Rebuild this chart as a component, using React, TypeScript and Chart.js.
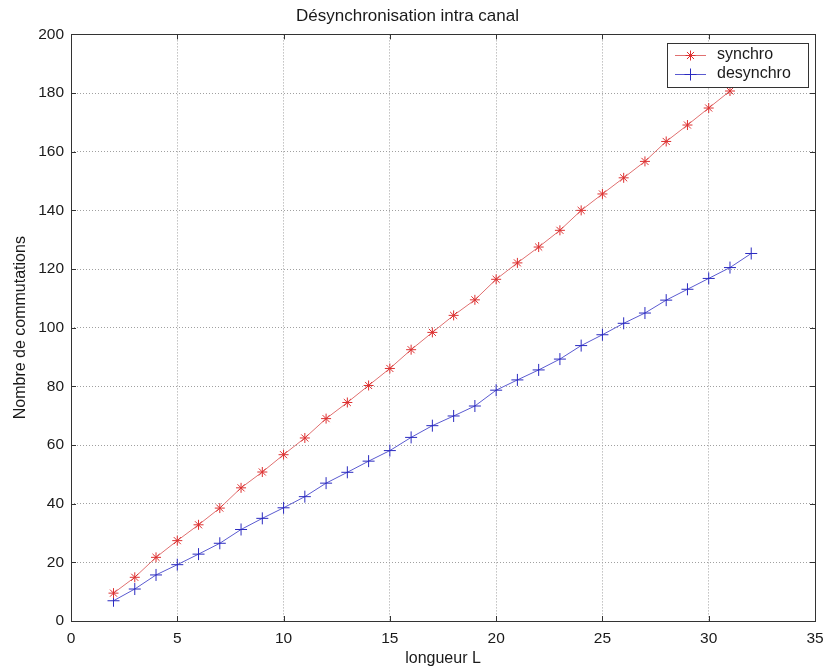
import { useEffect, useRef } from "react";
import { Chart, registerables } from "chart.js";

Chart.register(...registerables);

const TITLE = "Désynchronisation intra canal";
const X_LABEL = "longueur L";
const Y_LABEL = "Nombre de commutations";
const SERIES_NAMES = ["synchro", "desynchro"];

const L_SYNCHRO = [2, 3, 4, 5, 6, 7, 8, 9, 10, 11, 12, 13, 14, 15, 16, 17, 18, 19, 20, 21, 22, 23, 24, 25, 26, 27, 28, 29, 30, 31];
const SYNCHRO = [9.5, 14.9, 21.7, 27.4, 32.8, 38.5, 45.4, 50.8, 56.7, 62.4, 69.0, 74.5, 80.3, 86.1, 92.5, 98.4, 104.2, 109.5, 116.5, 122.1, 127.5, 133.2, 140.0, 145.6, 151.1, 156.7, 163.5, 169.1, 174.9, 180.7];

const L_DESYNCHRO = [2, 3, 4, 5, 6, 7, 8, 9, 10, 11, 12, 13, 14, 15, 16, 17, 18, 19, 20, 21, 22, 23, 24, 25, 26, 27, 28, 29, 30, 31, 32];
const DESYNCHRO = [6.9, 10.9, 15.7, 19.2, 22.8, 26.5, 31.2, 35.0, 38.6, 42.4, 47.0, 50.7, 54.5, 58.1, 62.6, 66.6, 69.9, 73.3, 78.7, 82.2, 85.6, 89.3, 93.9, 97.6, 101.5, 105.0, 109.4, 113.1, 116.8, 120.5, 125.3];

const X_TICKS = [0, 5, 10, 15, 20, 25, 30, 35];
const Y_TICKS = [0, 20, 40, 60, 80, 100, 120, 140, 160, 180, 200];

const FONT = "'Liberation Sans', Arial, Helvetica, sans-serif";
const TEXT = "#1a1a1a";

function drawMarker(ctx: CanvasRenderingContext2D, style: string, r: number, color: string, x: number, y: number) {
  ctx.save();
  ctx.strokeStyle = color;
  ctx.lineWidth = 1;
  ctx.beginPath();
  ctx.moveTo(x - r, y);
  ctx.lineTo(x + r, y);
  ctx.moveTo(x, y - r);
  ctx.lineTo(x, y + r);
  if (style === "star") {
    const d = r * Math.SQRT1_2;
    ctx.moveTo(x - d, y - d);
    ctx.lineTo(x + d, y + d);
    ctx.moveTo(x - d, y + d);
    ctx.lineTo(x + d, y - d);
  }
  ctx.stroke();
  ctx.restore();
}

const matlabFrame = {
  id: "matlabFrame",
  afterDraw(chart: any) {
    const { ctx, chartArea: a, scales } = chart;
    const xs = scales.x;
    const ys = scales.y;
    ctx.save();
    ctx.strokeStyle = "#333";
    ctx.lineWidth = 1;
    ctx.strokeRect(Math.round(a.left) + 0.5, Math.round(a.top) + 0.5, Math.round(a.right - a.left), Math.round(a.bottom - a.top));
    const tl = 5;
    ctx.beginPath();
    xs.ticks.forEach((t: any) => {
      const px = Math.round(xs.getPixelForValue(t.value)) + 0.5;
      ctx.moveTo(px, a.bottom);
      ctx.lineTo(px, a.bottom - tl);
      ctx.moveTo(px, a.top);
      ctx.lineTo(px, a.top + tl);
    });
    ys.ticks.forEach((t: any) => {
      const py = Math.round(ys.getPixelForValue(t.value)) + 0.5;
      ctx.moveTo(a.left, py);
      ctx.lineTo(a.left + tl, py);
      ctx.moveTo(a.right, py);
      ctx.lineTo(a.right - tl, py);
    });
    ctx.stroke();

    // legend box (MATLAB style, inside the axes, top-right)
    const bx = 667.5, by = 43.5, bw = 141, bh = 44;
    ctx.fillStyle = "#fff";
    ctx.fillRect(bx, by, bw, bh);
    ctx.strokeStyle = "#333";
    ctx.strokeRect(bx, by, bw, bh);
    const rows = [55, 74];
    chart.data.datasets.forEach((ds: any, i: number) => {
      const y = rows[i] + 0.5;
      ctx.strokeStyle = ds.borderColor;
      ctx.lineWidth = 1;
      ctx.beginPath();
      ctx.moveTo(675, y);
      ctx.lineTo(706, y);
      ctx.stroke();
      drawMarker(ctx, ds.pointStyle, ds.pointRadius, ds.pointBorderColor, 690.5, y);
      ctx.fillStyle = TEXT;
      ctx.font = `16px ${FONT}`;
      ctx.textBaseline = "middle";
      ctx.textAlign = "left";
      ctx.fillText(ds.label, 717, rows[i]);
    });
    ctx.restore();
  },
};

export default function App() {
  const ref = useRef<HTMLCanvasElement | null>(null);

  useEffect(() => {
    document.body.style.margin = "0";
    const canvas = ref.current;
    if (!canvas) return;
    const chart = new Chart(canvas, {
      type: "line",
      data: {
        datasets: [
          {
            label: SERIES_NAMES[0],
            data: L_SYNCHRO.map((l, i) => ({ x: l, y: SYNCHRO[i] })),
            borderColor: "#e07070",
            borderWidth: 1,
            pointStyle: "star",
            pointRadius: 5,
            pointBorderColor: "#dd3030",
            pointBorderWidth: 1,
            pointBackgroundColor: "#dd3030",
            fill: false,
            tension: 0,
          },
          {
            label: SERIES_NAMES[1],
            data: L_DESYNCHRO.map((l, i) => ({ x: l, y: DESYNCHRO[i] })),
            borderColor: "#5a5ad0",
            borderWidth: 1,
            pointStyle: "cross",
            pointRadius: 6,
            pointBorderColor: "#2a2ac0",
            pointBorderWidth: 1,
            pointBackgroundColor: "#2a2ac0",
            fill: false,
            tension: 0,
          },
        ],
      },
      options: {
        responsive: false,
        animation: false,
        devicePixelRatio: 1,
        layout: { padding: { left: 0, right: 13, top: 0, bottom: 0 } },
        plugins: {
          legend: { display: false },
          tooltip: { enabled: false },
          title: {
            display: true,
            text: TITLE,
            color: TEXT,
            font: { family: FONT, size: 17, weight: "normal" },
            padding: { top: 6, bottom: 8 },
          },
        },
        scales: {
          x: {
            type: "linear",
            min: 0,
            max: 35,
            afterBuildTicks: (s: any) => {
              s.ticks = X_TICKS.map((v) => ({ value: v }));
            },
            afterFit: (s: any) => {
              s.height = 50;
              s.paddingRight = 0;
              s.paddingLeft = 0;
            },
            ticks: {
              color: TEXT,
              font: { family: FONT, size: 15.5 },
              padding: 8,
              maxRotation: 0,
              autoSkip: false,
            },
            grid: { color: "#a0a0a0", lineWidth: 1, drawTicks: false },
            border: { display: false, dash: [1, 2] },
            title: {
              display: true,
              text: X_LABEL,
              color: TEXT,
              font: { family: FONT, size: 16 },
              padding: { top: 0, bottom: 3 },
            },
          },
          y: {
            type: "linear",
            min: 0,
            max: 200,
            afterBuildTicks: (s: any) => {
              s.ticks = Y_TICKS.map((v) => ({ value: v }));
            },
            afterFit: (s: any) => {
              s.width = 71;
            },
            ticks: {
              color: TEXT,
              font: { family: FONT, size: 15.5 },
              padding: 7,
              autoSkip: false,
            },
            grid: { color: "#a0a0a0", lineWidth: 1, drawTicks: false },
            border: { display: false, dash: [1, 2] },
            title: {
              display: true,
              text: Y_LABEL,
              color: TEXT,
              font: { family: FONT, size: 16 },
              padding: { top: 11, bottom: 0 },
            },
          },
        },
      },
      plugins: [matlabFrame],
    } as any);
    return () => chart.destroy();
  }, []);

  return (
    <div style={{ position: "absolute", left: 0, top: 0, width: 828, height: 671, background: "#fff" }}>
      <canvas ref={ref} width={828} height={671} />
    </div>
  );
}
